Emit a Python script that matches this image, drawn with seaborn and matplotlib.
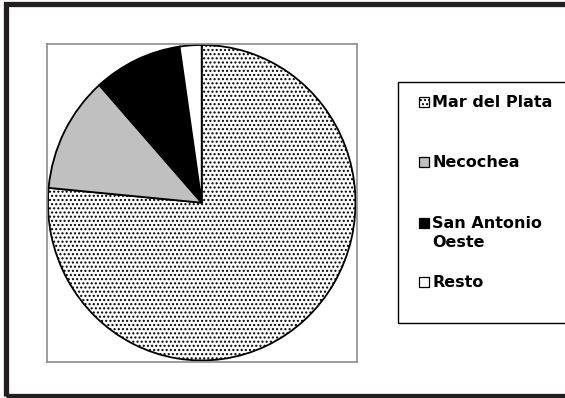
import numpy as np
import pandas as pd
import seaborn as sns
import matplotlib.pyplot as plt
from matplotlib.patches import Rectangle

# datos: participacion por puerto (%)
puertos = ["Mar del Plata", "Necochea", "San Antonio\nOeste", "Resto"]
porcentajes = [76.5, 11.9, 9.3, 2.3]

colores = ["white", "#c0c0c0", "black", "white"]
tramas = ["....", None, None, None]

sns.set_style("white")
plt.rcParams["font.family"] = ["DejaVu Sans"]
plt.rcParams["hatch.color"] = "#4a4a4a"
plt.rcParams["hatch.linewidth"] = 1.0

W, H = 565, 398
fig = plt.figure(figsize=(W / 100, H / 100), dpi=100)
fig.patch.set_facecolor("white")

# area del grafico (caja gris)
ax = fig.add_axes([46.7 / W, 1 - 361.7 / H, 310 / W, 318 / H])
df = pd.DataFrame({"puerto": puertos, "pct": porcentajes})
wedges, _ = ax.pie(
    df["pct"],
    colors=colores,
    startangle=90,
    counterclock=False,
    frame=True,
    wedgeprops=dict(edgecolor="black", linewidth=1.3),
)
for w, h in zip(wedges, tramas):
    if h:
        w.set_hatch(h)
ax.set_aspect("auto")
ax.set_xlim(-1.008, 1.008)
ax.set_ylim(-1.008, 1.008)
ax.set_xticks([])
ax.set_yticks([])
for s in ax.spines.values():
    s.set_color("#8c8c8c")
    s.set_linewidth(1.2)

# marco exterior
fig.add_artist(Rectangle((5.5 / W, 1 - 395.5 / H), 2, (395.5 - 4) / H,
                         transform=fig.transFigure, fill=False,
                         ec="#231f20", lw=3.8))

# leyenda dibujada a mano (caja cortada a la derecha como en el original)
fig.add_artist(Rectangle((398 / W, 1 - 323 / H), 0.5, (323 - 82) / H,
                         transform=fig.transFigure, fill=False,
                         ec="black", lw=1.0))
y_items = [102, 162, 223, 282]
for lab, c, h, y in zip(puertos, colores, tramas, y_items):
    fig.add_artist(Rectangle((419 / W, 1 - (y + 5) / H), 10 / W, 10 / H,
                             transform=fig.transFigure, fc=c, ec="black",
                             lw=0.9, hatch=h))
    fig.text(432 / W, 1 - (y - 7) / H, lab, ha="left", va="top",
             fontsize=11.5, fontweight="bold", linespacing=1.3,
             color="black")

fig.savefig("out.png", dpi=100)
